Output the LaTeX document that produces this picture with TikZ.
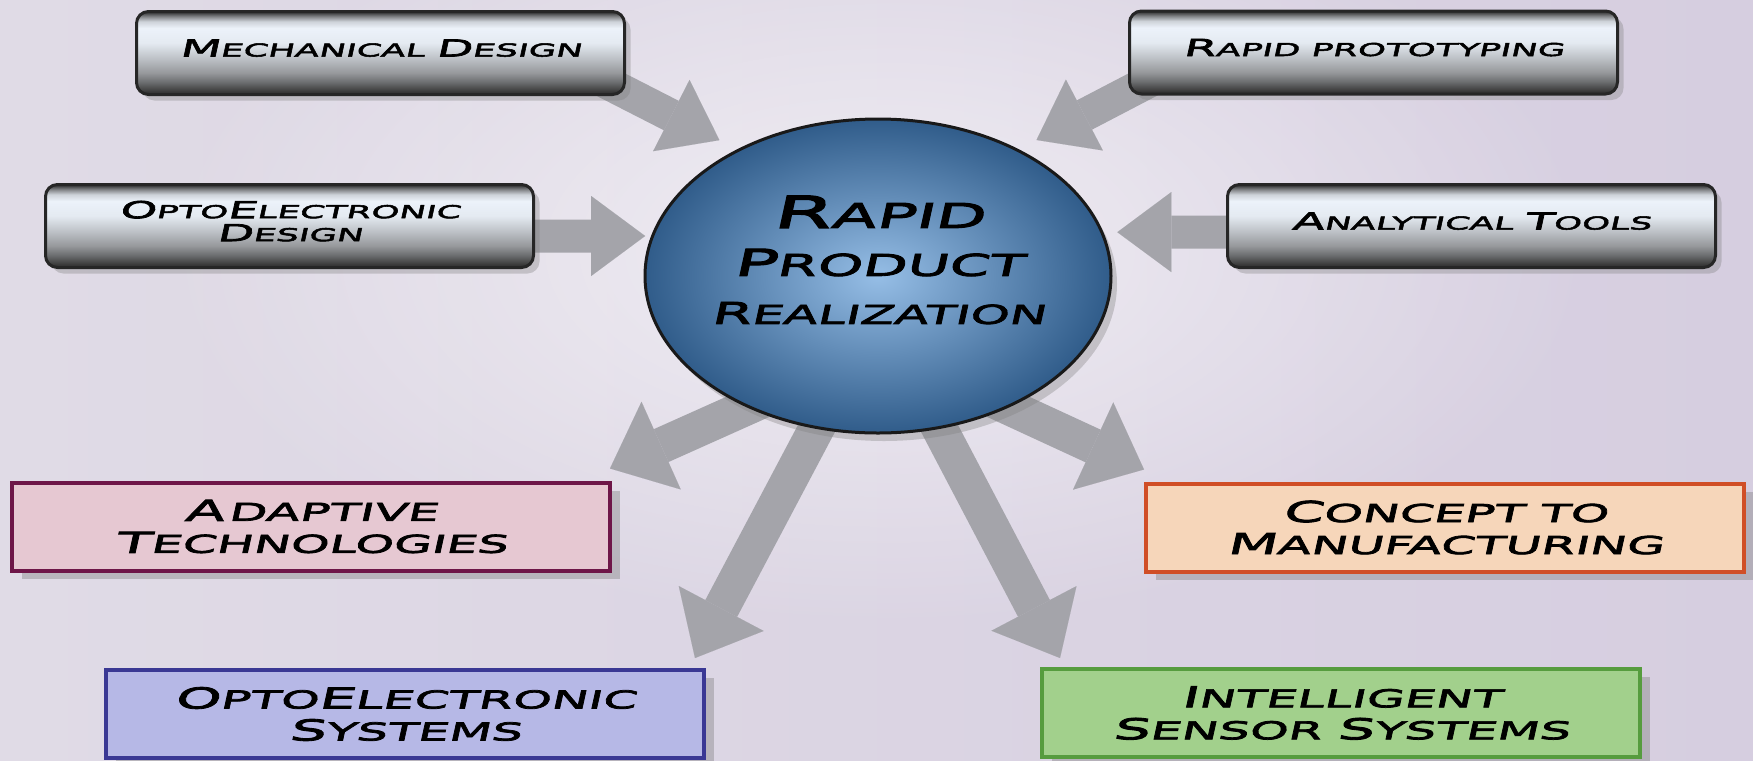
\documentclass[tikz,border=0pt]{standalone}
\usepackage{fontspec}
\usetikzlibrary{shapes.geometric,arrows.meta,calc,shadows,fadings}
\newfontfamily\boxfont[FakeStretch=2.0,FakeSlant=0.22,FakeBold=3]{DejaVu Sans}
\newfontfamily\circfont[FakeStretch=1.92,FakeSlant=0.22,FakeBold=3]{DejaVu Sans}
\newcommand\sword[4]{{\fontsize{#1}{#1}\selectfont #3}{\fontsize{#2}{#2}\selectfont #4}}
\newcommand\gword[2]{\sword{11.7pt}{8.9pt}{#1}{#2}}
\newcommand\cword[2]{\sword{14.4pt}{12.3pt}{#1}{#2}}
\definecolor{bgL}{RGB}{224,219,230}
\definecolor{bgR}{RGB}{214,206,224}
\definecolor{arrowgray}{RGB}{164,164,170}
\definecolor{hubin}{RGB}{150,190,230}
\definecolor{hubout}{RGB}{48,92,138}
\definecolor{adfill}{RGB}{230,200,210}
\definecolor{addraw}{RGB}{110,22,72}
\definecolor{cofill}{RGB}{246,214,186}
\definecolor{codraw}{RGB}{208,78,38}
\definecolor{osfill}{RGB}{182,184,230}
\definecolor{osdraw}{RGB}{58,56,148}
\definecolor{isfill}{RGB}{162,208,140}
\definecolor{isdraw}{RGB}{86,156,62}
\definecolor{mA}{RGB}{40,40,40}
\definecolor{mB}{RGB}{64,64,64}
\definecolor{mC}{RGB}{108,110,112}
\definecolor{mD}{RGB}{150,152,155}
\definecolor{mE}{RGB}{186,190,195}
\definecolor{mF}{RGB}{228,234,241}
\definecolor{mG}{RGB}{236,242,250}
\definecolor{mH}{RGB}{205,210,216}
\definecolor{mI}{RGB}{130,132,135}
\pgfdeclareverticalshading{metal}{100bp}{color(0bp)=(mA); color(25bp)=(mA); color(27.5bp)=(mB); color(32.5bp)=(mC); color(38bp)=(mD); color(46bp)=(mE); color(56bp)=(mF); color(65bp)=(mG); color(69bp)=(mH); color(72bp)=(mI); color(75bp)=(mA); color(100bp)=(mA)}
\tikzfading[name=glowfade, inner color=transparent!0, outer color=transparent!100]
\pgfdeclarelayer{bg}
\pgfdeclarelayer{arrowlayer}
\pgfsetlayers{bg,arrowlayer,main}
\tikzset{
  metalbox/.style={rounded corners=6pt, draw=black!85, line width=1.5pt, shade, shading=metal,
    minimum width=244pt, minimum height=41.5pt, inner sep=0pt, align=center, text depth=5pt,
    font=\boxfont\fontsize{8.9pt}{11.5pt}\selectfont,
    drop shadow={shadow xshift=3pt, shadow yshift=-3pt, opacity=0.35}},
  colbox/.style={draw=#1, line width=2pt, minimum width=299pt, minimum height=44pt, inner sep=0pt,
    align=center, font=\boxfont\fontsize{12.3pt}{16pt}\selectfont,
    drop shadow={shadow xshift=5pt, shadow yshift=-4pt, opacity=0.4}},
  hub/.style={ellipse, draw=black!90, line width=1.5pt, minimum width=233pt, minimum height=157pt,
    inner sep=0pt, inner color=hubin, outer color=hubout,
    drop shadow={shadow xshift=3pt, shadow yshift=-4pt, opacity=0.35}},
  hubtext/.style={align=center, inner sep=0pt, font=\circfont\fontsize{15pt}{24pt}\selectfont},
  inarrow/.style={draw=arrowgray, line width=16.5pt, -{Triangle[length=27pt, width=40pt, line width=0.01pt]}},
  outarrow/.style={draw=arrowgray, line width=18pt, -{Triangle[length=28pt, width=48pt, line width=0.01pt]}}
}
\begin{document}
\begin{tikzpicture}[x=0.5pt,y=-0.5pt]
\useasboundingbox (0,0) rectangle (1753,761);
\begin{pgfonlayer}{bg}
  \shade[left color=bgL, right color=bgR] (0,0) rectangle (1753,761);
  \fill[white, opacity=0.6, path fading=glowfade] (878,250) ellipse [x radius=720, y radius=380];
\end{pgfonlayer}

% nodes
\node[metalbox] (mech) at (380.5,53) {\gword{M}{ECHANICAL} \gword{D}{ESIGN}};
\node[metalbox] (rproto) at (1373.5,52.5) {\gword{R}{APID PROTOTYPING}};
\node[metalbox] (optd) at (289.5,226) {\gword{O}{PTO}\gword{E}{LECTRONIC}\\\gword{D}{ESIGN}};
\node[metalbox] (anal) at (1471.5,226) {\gword{A}{NALYTICAL} \gword{T}{OOLS}};

\node[colbox=addraw, fill=adfill] (adapt) at (311,526.5) {\cword{A}{\,DAPTIVE}\\\cword{T}{ECHNOLOGIES}};
\node[colbox=codraw, fill=cofill] (concept) at (1445,527.5) {\cword{C}{ONCEPT TO}\\\cword{M}{ANUFACTURING}};
\node[colbox=osdraw, fill=osfill] (osys) at (405,714) {\cword{O}{PTO}\cword{E}{LECTRONIC}\\\cword{S}{YSTEMS}};
\node[colbox=isdraw, fill=isfill] (isys) at (1341,713) {\cword{I}{NTELLIGENT}\\\cword{S}{ENSOR} \cword{S}{YSTEMS}};

\node[hub] (rpr) at (878,276) {};
\node[hubtext] (rprtext) at ($(rpr.center)+(0,-16)$) {\sword{22pt}{17pt}{R}{APID}\\\sword{18.5pt}{15pt}{P}{RODUCT}\\\sword{15pt}{13pt}{R}{EALIZATION}};

% arrows
\begin{pgfonlayer}{arrowlayer}
  \draw[inarrow, shorten >=10pt] ($(mech.south east)+(-36,-22)$) -- (rpr.138);
  \draw[inarrow, shorten >=10pt] ($(rproto.south west)+(36,-22)$) -- (rpr.42);
  \draw[inarrow, shorten >=3pt] ($(optd.east)+(-30,10)$) -- (rpr.170);
  \draw[inarrow, shorten >=7pt] ($(anal.west)+(30,6)$) -- (rpr.11);
  \draw[outarrow, shorten <=-12pt] (rpr.225) -- ($(adapt.north east)+(-2,-12)$);
  \draw[outarrow, shorten <=-12pt] (rpr.248) -- ($(osys.north east)+(-11,-10)$);
  \draw[outarrow, shorten <=-12pt] (rpr.292) -- ($(isys.north west)+(20,-9)$);
  \draw[outarrow, shorten <=-12pt] (rpr.315) -- ($(concept.north west)+(0,-12)$);
\end{pgfonlayer}
\end{tikzpicture}
\end{document}
